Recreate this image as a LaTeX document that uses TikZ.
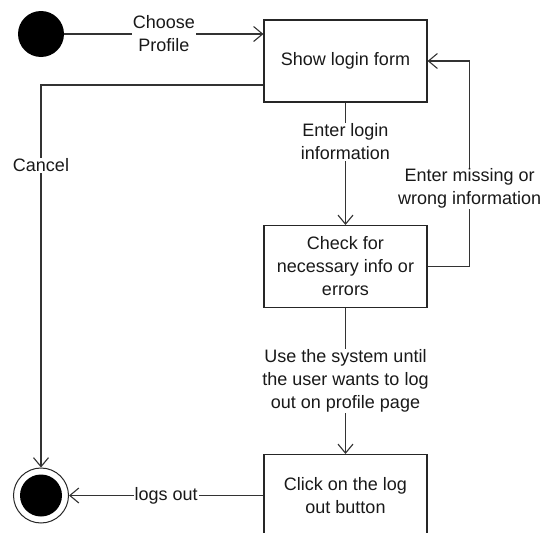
\documentclass[tikz,border=0pt]{standalone}
\usepackage{fontspec}
\setmainfont{Liberation Sans}
\usetikzlibrary{arrows.meta}
\begin{document}
\begin{tikzpicture}[x=1pt,y=-1pt,
  txt/.style={font=\fontsize{18}{23}\selectfont, text=black!90},
  state/.style={txt, draw=black!85, line width=1.1pt, minimum width=163pt,
    minimum height=82pt, inner sep=0pt, align=center},
  flow/.style={draw=black!80, line width=1.1pt,
    -{Straight Barb[length=9pt,width=15pt,line width=1.1pt]}},
  lbl/.style={txt, fill=white, inner sep=1pt, align=center}
]
\useasboundingbox (0,0) rectangle (550,533);
\clip (0,0) rectangle (550,533);

% initial and final pseudo-states
\node[circle, fill=black, minimum size=46pt, inner sep=0pt] (start) at (41,34) {};
\node[circle, draw=black!85, line width=1pt, minimum size=55pt, inner sep=0pt] (end) at (41,495.5) {};
\fill[black] (end.center) circle[radius=21pt];

% activity states
\node[state] (form)   at (345.5,61)    {Show login form};
\node[state] (check)  at (345.5,266.5) {Check for\\necessary info or\\errors};
\node[state] (logout) at (345.5,495.5) {Click on the log\\out button};

% transitions
\draw[flow] (start) -- node[lbl]{Choose\\Profile} (start -| form.west);
\draw[flow] ([yshift=-24pt]form.west) -| node[lbl, pos=0.605]{Cancel} (end.north);
\draw[flow] (form.south) -- node[lbl, pos=0.32]{Enter login\\information} (check.north);
\draw[flow] (check.east) -- ++(42,0) |- node[lbl, pos=0.19]{Enter missing or\\wrong information} (form.east);
\draw[flow] (check.south) -- node[lbl, pos=0.5]{Use the system until\\the user wants to log\\out on profile page} (logout.north);
\draw[flow] (logout.west) -- node[lbl]{logs out} (end.east);
\end{tikzpicture}
\end{document}
